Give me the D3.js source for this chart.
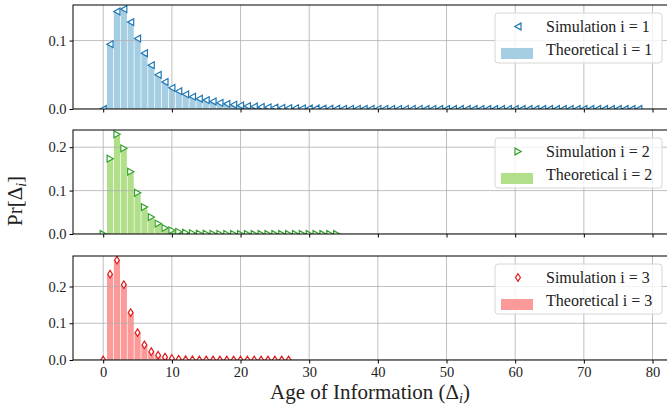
<!DOCTYPE html>
<html>
<head>
<meta charset="utf-8">
<script src="https://cdn.jsdelivr.net/npm/d3@7"></script>
<style>
  body { margin: 0; background: #fff; }
  svg text { font-family: "Liberation Serif", "DejaVu Serif", serif; }
</style>
</head>
<body>
<div id="plot"></div>
<script>
// simulated and theoretical probability mass
const sim1 = [0, 0.0947, 0.1425, 0.146, 0.127, 0.103, 0.0815, 0.064, 0.050, 0.0395,
  0.031, 0.026, 0.0215, 0.018, 0.015, 0.013, 0.011, 0.009, 0.0075, 0.0063,
  0.0052, 0.0043, 0.0036, 0.003, 0.0025, 0.0021, 0.0017, 0.0014, 0.0012, 0.001,
  0.0008, 0.0007, 0.0006, 0.0005, 0.0004, 0.0003, 0.0003, 0.0002, 0.0002, 0.0002,
  0.0001, 0.0001, 0.0001, 0.0001, 0.0001, 0.0001, 0.0001, 0, 0.0001, 0,
  0, 0, 0, 0, 0, 0, 0, 0, 0, 0,
  0, 0, 0, 0, 0, 0, 0, 0, 0, 0,
  0, 0, 0, 0, 0, 0, 0, 0, 0];
const theo1 = [0, 0.096, 0.143, 0.145, 0.127, 0.103, 0.082, 0.064, 0.050, 0.039,
  0.031, 0.026, 0.0215, 0.018, 0.015, 0.013, 0.011, 0.009, 0.0075, 0.0063,
  0.0052, 0.0043, 0.0036, 0.003, 0.0025, 0.0021, 0.0017, 0.0014, 0.0012, 0.001,
  0.0008, 0.0007, 0.0006, 0.0005, 0.0004, 0.0003, 0.0003, 0.0002, 0.0002, 0.0002,
  0.0001, 0.0001, 0.0001, 0.0001, 0.0001, 0.0001, 0.0001, 0.0001, 0.0001, 0,
  0, 0, 0, 0, 0, 0, 0, 0, 0, 0,
  0, 0, 0, 0, 0, 0, 0, 0, 0, 0,
  0, 0, 0, 0, 0, 0, 0, 0, 0];

const sim2 = [0, 0.1735, 0.2297, 0.1974, 0.1436, 0.095, 0.062, 0.039, 0.024, 0.014,
  0.0085, 0.005, 0.003, 0.0018, 0.001, 0.0006, 0.0004, 0.0002, 0.0001, 0.0001,
  0, 0, 0, 0, 0, 0, 0, 0, 0, 0,
  0, 0, 0, 0, 0];
const theo2 = [0, 0.173, 0.229, 0.198, 0.144, 0.095, 0.062, 0.039, 0.024, 0.014,
  0.0085, 0.005, 0.003, 0.0018, 0.001, 0.0006, 0.0004, 0.0002, 0.0001, 0.0001,
  0, 0, 0, 0, 0, 0, 0, 0, 0, 0,
  0, 0, 0, 0, 0];

const sim3 = [0, 0.2335, 0.2716, 0.205, 0.129, 0.0744, 0.041, 0.0227, 0.0128, 0.008,
  0.004, 0.002, 0.001, 0.0006, 0.0003, 0.0002, 0.0001, 0, 0, 0,
  0, 0, 0, 0, 0, 0, 0, 0];
const theo3 = [0, 0.234, 0.271, 0.205, 0.129, 0.0745, 0.041, 0.0227, 0.0128, 0.008,
  0.004, 0.002, 0.001, 0.0006, 0.0003, 0.0002, 0.0001, 0, 0, 0,
  0, 0, 0, 0, 0, 0, 0, 0];

const xTicks = [0, 10, 20, 30, 40, 50, 60, 70, 80];

const panels = [
  { i: 1, sim: sim1, theo: theo1, yMax: 0.152, yTicks: [0, 0.1], top: 5,
    bar: '#a6cee3', mark: '#1f78b4', shape: 'left' },
  { i: 2, sim: sim2, theo: theo2, yMax: 0.2396, yTicks: [0, 0.1, 0.2], top: 130,
    bar: '#b2df8a', mark: '#33a02c', shape: 'right' },
  { i: 3, sim: sim3, theo: theo3, yMax: 0.283, yTicks: [0, 0.1, 0.2], top: 256,
    bar: '#fb9a99', mark: '#e31a1c', shape: 'diamond' }
];

const W = 667, H = 409;
const left = 73, right = 669, panelH = 104;

const svg = d3.select('#plot').append('svg')
  .attr('width', W).attr('height', H);

const x = d3.scaleLinear().domain([-4.4, 82.4]).range([left, right]);
const barW = x(0.9) - x(0);

// marker path centred on 0,0
function markerPath(shape) {
  if (shape === 'left') return 'M-3.2,0L3,-3.4L3,3.4Z';
  if (shape === 'right') return 'M3.2,0L-3,-3.4L-3,3.4Z';
  return 'M0,-3.8L2.4,0L0,3.8L-2.4,0Z';
}

panels.forEach(function (p, k) {
  const y = d3.scaleLinear().domain([0, p.yMax]).range([p.top + panelH, p.top]);
  const g = svg.append('g');

  // clip to the axes area
  const clipId = 'clip' + k;
  g.append('clipPath').attr('id', clipId)
    .append('rect').attr('x', left).attr('y', p.top)
    .attr('width', right - left).attr('height', panelH);

  const inner = g.append('g').attr('clip-path', `url(#${clipId})`);

  // theoretical bars
  inner.selectAll('rect.bar')
    .data(p.theo)
    .enter().append('rect')
    .attr('class', 'bar')
    .attr('x', (d, j) => x(j) - barW / 2)
    .attr('width', barW)
    .attr('y', d => y(d))
    .attr('height', d => y(0) - y(d))
    .attr('fill', p.bar);

  // grid above bars, below markers
  inner.selectAll('line.gx')
    .data(xTicks)
    .enter().append('line')
    .attr('x1', d => x(d)).attr('x2', d => x(d))
    .attr('y1', p.top).attr('y2', p.top + panelH)
    .attr('stroke', '#b0b0b0').attr('stroke-width', 0.8);
  inner.selectAll('line.gy')
    .data(p.yTicks)
    .enter().append('line')
    .attr('x1', left).attr('x2', right)
    .attr('y1', d => y(d)).attr('y2', d => y(d))
    .attr('stroke', '#b0b0b0').attr('stroke-width', 0.8);

  // simulation markers
  inner.selectAll('path.mk')
    .data(p.sim)
    .enter().append('path')
    .attr('class', 'mk')
    .attr('transform', (d, j) => `translate(${x(j)},${y(d)})`)
    .attr('d', markerPath(p.shape))
    .attr('fill', 'white')
    .attr('stroke', p.mark)
    .attr('stroke-width', 1.2);

  // axes
  const yAxis = d3.axisLeft(y).tickValues(p.yTicks)
    .tickFormat(d3.format('.1f')).tickSize(3.5).tickPadding(3);
  const ya = g.append('g').attr('transform', `translate(${left},0)`).call(yAxis);
  ya.select('.domain').remove();
  ya.selectAll('text').attr('font-size', 14.5).attr('fill', '#222');

  const xAxis = d3.axisBottom(x).tickValues(xTicks).tickSize(3.5).tickPadding(3)
    .tickFormat(k === 2 ? d3.format('d') : '');
  const xa = g.append('g').attr('transform', `translate(0,${p.top + panelH})`).call(xAxis);
  xa.select('.domain').remove();
  xa.selectAll('text').attr('font-size', 14.5).attr('fill', '#222');

  // spines
  g.append('rect')
    .attr('x', left).attr('y', p.top)
    .attr('width', right - left).attr('height', panelH)
    .attr('fill', 'none').attr('stroke', 'black').attr('stroke-width', 1);

  // legend
  const lg = g.append('g').attr('transform', `translate(495,${p.top + 8})`);
  lg.append('rect')
    .attr('width', 167).attr('height', 50).attr('rx', 3)
    .attr('fill', 'white').attr('fill-opacity', 0.8)
    .attr('stroke', '#d6d6d6').attr('stroke-width', 1);
  lg.append('path')
    .attr('transform', 'translate(23,13.5)')
    .attr('d', markerPath(p.shape))
    .attr('fill', 'white').attr('stroke', p.mark).attr('stroke-width', 1.2);
  lg.append('rect')
    .attr('x', 6).attr('y', 35).attr('width', 32).attr('height', 11)
    .attr('fill', p.bar);
  lg.append('text').attr('x', 51).attr('y', 19)
    .attr('font-size', 16).attr('fill', '#222')
    .text('Simulation i = ' + p.i);
  lg.append('text').attr('x', 51).attr('y', 42)
    .attr('font-size', 16).attr('fill', '#222')
    .text('Theoretical i = ' + p.i);
});

// axis titles
const xl = svg.append('text')
  .attr('x', 370).attr('y', 399)
  .attr('text-anchor', 'middle')
  .attr('font-size', 21).attr('fill', '#222');
xl.append('tspan').text('Age of Information (Δ');
xl.append('tspan').attr('font-style', 'italic').attr('font-size', 14).attr('dy', 4).text('i');
xl.append('tspan').attr('dy', -4).text(')');

const yl = svg.append('text')
  .attr('transform', 'translate(22,201) rotate(-90)')
  .attr('text-anchor', 'middle')
  .attr('font-size', 21).attr('fill', '#222');
yl.append('tspan').text('Pr[Δ');
yl.append('tspan').attr('font-style', 'italic').attr('font-size', 14).attr('dy', 4).text('i');
yl.append('tspan').attr('dy', -4).text(']');
</script>
</body>
</html>
